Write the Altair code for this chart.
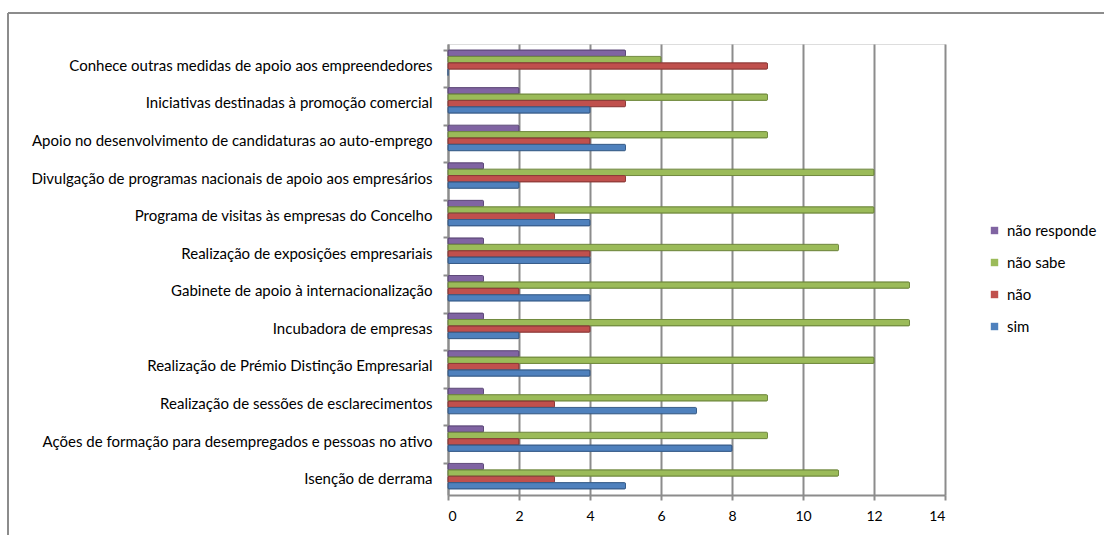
import altair as alt
import pandas as pd

# Measures listed top to bottom
medidas = [
    "Conhece outras medidas de apoio aos empreendedores",
    "Iniciativas destinadas à promoção comercial",
    "Apoio no desenvolvimento de candidaturas ao auto-emprego",
    "Divulgação de programas nacionais de apoio aos empresários",
    "Programa de visitas às empresas do Concelho",
    "Realização de exposições empresariais",
    "Gabinete de apoio à internacionalização",
    "Incubadora de empresas",
    "Realização de Prémio Distinção Empresarial",
    "Realização de sessões de esclarecimentos",
    "Ações de formação para desempregados e pessoas no ativo",
    "Isenção de derrama",
]

sim = [0, 4, 5, 2, 4, 4, 4, 2, 4, 7, 8, 5]
nao = [9, 5, 4, 5, 3, 4, 2, 4, 2, 3, 2, 3]
nao_sabe = [6, 9, 9, 12, 12, 11, 13, 13, 12, 9, 9, 11]
nao_responde = [5, 2, 2, 1, 1, 1, 1, 1, 2, 1, 1, 1]

series_names = ["não responde", "não sabe", "não", "sim"]
series_values = [nao_responde, nao_sabe, nao, sim]
series_fill = ["#8064A2", "#9BBB59", "#C0504D", "#4F81BD"]
series_edge = ["#5E4A7A", "#718A3F", "#8E3A38", "#385D8A"]
x_ticks = [0, 2, 4, 6, 8, 10, 12, 14]

rows = []
for name, vals in zip(series_names, series_values):
    for medida, v in zip(medidas, vals):
        rows.append({"medida": medida, "resposta": name, "n": v})
df = pd.DataFrame(rows)

FONT = "Lato"
W, H = 497, 451

bars = alt.Chart(df).mark_bar(strokeWidth=1, cornerRadius=1).encode(
    x=alt.X(
        "n:Q",
        scale=alt.Scale(domain=[0, 14], nice=False),
        axis=alt.Axis(
            values=x_ticks, title=None, grid=True, gridColor="#8c8c8c",
            gridWidth=2, domainColor="#8c8c8c", domainWidth=2,
            tickColor="#8c8c8c", tickWidth=2, tickSize=5,
            labelFont=FONT, labelFontSize=14, labelColor="#000000",
            labelPadding=9,
        ),
    ),
    y=alt.Y(
        "medida:N",
        sort=medidas,
        scale=alt.Scale(paddingInner=0.32, paddingOuter=0.16),
        axis=alt.Axis(
            title=None, domainColor="#8c8c8c", domainWidth=2,
            tickColor="#8c8c8c", tickWidth=2, tickSize=5, bandPosition=0,
            labelFont=FONT, labelFontSize=15, labelColor="#000000",
            labelPadding=11, labelLimit=440, labelOffset=3,
        ),
    ),
    yOffset=alt.YOffset("resposta:N", sort=series_names,
                        scale=alt.Scale(domain=series_names, paddingInner=0)),
    color=alt.Color(
        "resposta:N",
        scale=alt.Scale(domain=series_names, range=series_fill),
        legend=alt.Legend(
            title=None, orient="none", legendX=539, legendY=179,
            symbolType="square", symbolSize=55, symbolStrokeWidth=0,
            labelFont=FONT, labelFontSize=15, labelColor="#000000",
            rowPadding=16, labelOffset=5,
        ),
    ),
    stroke=alt.Stroke(
        "resposta:N",
        scale=alt.Scale(domain=series_names, range=series_edge),
        legend=None,
    ),
)

# Outer chart frame (left and top edges)
frame_left = alt.Chart().mark_rule(color="#8c8c8c", strokeWidth=2).encode(
    x=alt.value(-440), y=alt.value(-31), y2=alt.value(H + 60)
)
frame_top = alt.Chart().mark_rule(color="#8c8c8c", strokeWidth=2).encode(
    x=alt.value(-440), x2=alt.value(W + 180), y=alt.value(-31)
)

chart = alt.layer(bars, frame_left, frame_top).properties(
    width=W, height=H,
    autosize=alt.AutoSizeParams(type="none"),
    padding={"left": 448, "top": 44, "right": 159, "bottom": 40},
).configure_view(stroke=None).configure(background="#ffffff")

chart.save("out.html", embed_options={"renderer": "svg", "actions": False})
